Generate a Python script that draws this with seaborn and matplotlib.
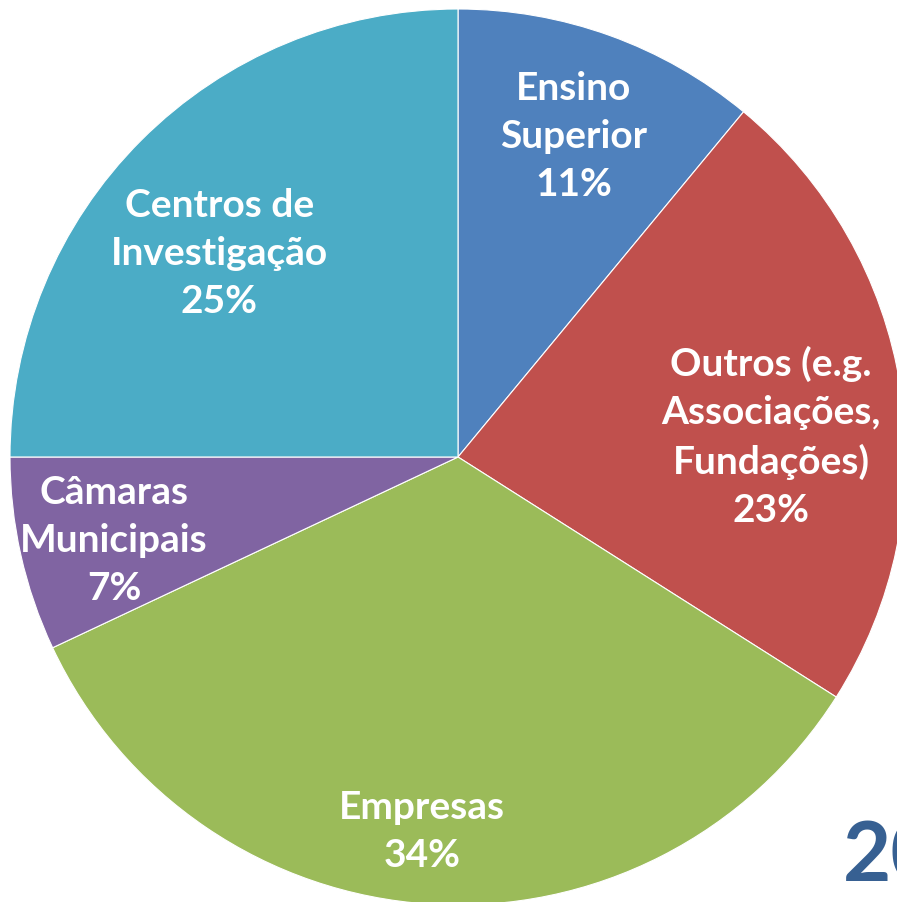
import matplotlib
matplotlib.use("Agg")
import matplotlib.pyplot as plt
import seaborn as sns
import numpy as np

# data
labels = ["Ensino\nSuperior", "Outros (e.g.\nAssociações,\nFundações)", "Empresas",
          "Câmaras\nMunicipais", "Centros de\nInvestigação"]
shares = [11, 23, 34, 7, 25]
colors = ["#4F81BD", "#C0504D", "#9BBB59", "#8064A2", "#4BACC6"]

# label placement: radial distance (fraction of radius) and angle tweak (deg)
label_dist = [0.76, 0.70, 0.84, 0.79, 0.70]
label_turn = [0.0, -5.3, -1.9, 1.0, 4.6]

sns.set_theme(style="white")
plt.rcParams["font.family"] = ["Lato", "DejaVu Sans"]

W, H = 897, 902
fig = plt.figure(figsize=(W / 100, H / 100), dpi=100)
ax = fig.add_axes([0, 0, 1, 1])

cx, cy, R = 458, H - 457, 448
wedges, _ = ax.pie(shares, colors=colors, startangle=90, counterclock=False,
                   radius=R, center=(cx, cy),
                   wedgeprops=dict(edgecolor="white", linewidth=0.8))

for w, lab, val, d, t in zip(wedges, labels, shares, label_dist, label_turn):
    mid = np.deg2rad((w.theta1 + w.theta2) / 2 + t)
    ax.text(cx + d * R * np.cos(mid), cy + d * R * np.sin(mid), f"{lab}\n{val}%",
            ha="center", va="center", color="white", fontsize=28,
            fontweight="bold", linespacing=1.45, multialignment="center")

ax.text(843, 20, "20", ha="left", va="baseline", color="#376092",
        fontsize=60, fontweight="bold", clip_on=False)

ax.set_xlim(0, W)
ax.set_ylim(0, H)
ax.axis("off")
fig.savefig("out.png", dpi=100)
